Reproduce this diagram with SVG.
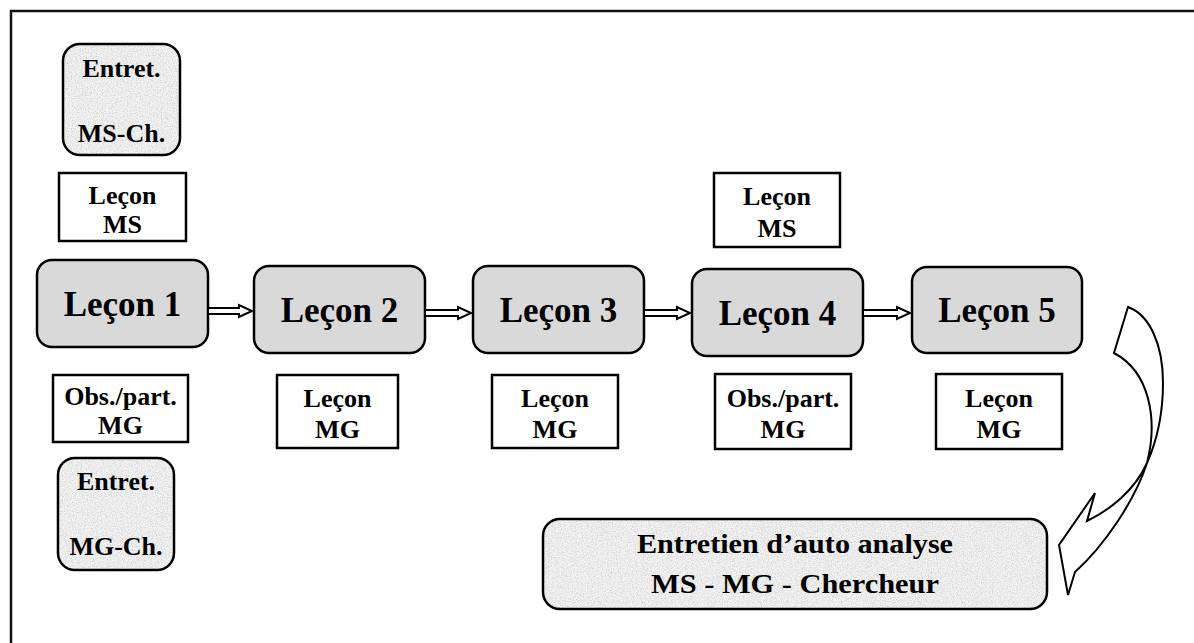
<svg xmlns="http://www.w3.org/2000/svg" width="1194" height="643" viewBox="0 0 1194 643">
<defs>
<style>
.lbl{font-family:"Liberation Serif","Times New Roman",serif;font-weight:bold;fill:#000;text-anchor:middle}
.big{font-size:35px}
.sm{font-size:26px}
.main{fill:#d9d9d9;stroke:#000;stroke-width:2.5}
.note{fill:#fff;stroke:#000;stroke-width:2.5}
.sbg{fill:#f3f3f3}
.grain{fill:#000;filter:url(#grain)}
.edge{fill:none;stroke:#000;stroke-width:2.5}
.arw{fill:#fff;stroke:#000;stroke-width:2;stroke-linejoin:miter}
</style>
<filter id="grain" x="0" y="0" width="1" height="1">
<feTurbulence type="fractalNoise" baseFrequency="0.8" numOctaves="3" seed="7"/>
<feColorMatrix type="matrix" values="0 0 0 0 0.55  0 0 0 0 0.55  0 0 0 0 0.55  1 1 1 0 -1.35"/>
<feComposite in2="SourceGraphic" operator="in"/>
</filter>
</defs>
<rect x="0" y="0" width="1194" height="643" fill="#fff"/>
<rect x="11" y="11" width="1200" height="650" fill="none" stroke="#111" stroke-width="2.5"/>

<g id="entret-ms-ch">
<rect class="sbg" x="63" y="44" width="117" height="111" rx="17"/>
<rect class="grain" x="63" y="44" width="117" height="111" rx="17"/>
<rect class="edge" x="63" y="44" width="117" height="111" rx="17"/>
<text class="lbl sm" x="121.5" y="77">Entret.</text>
<text class="lbl sm" x="121.5" y="142">MS-Ch.</text>
</g>

<g id="lecon-ms-1">
<rect class="note" x="59" y="173" width="127" height="68"/>
<text class="lbl sm" x="122.5" y="204">Leçon</text>
<text class="lbl sm" x="122.5" y="233">MS</text>
</g>

<g id="lecon1">
<rect class="main" x="37" y="260" width="171" height="87" rx="15"/>
<text class="lbl big" x="122.5" y="316">Leçon 1</text>
</g>

<g id="obs-mg-1">
<rect class="note" x="53" y="375" width="135" height="67"/>
<text class="lbl sm" x="120.5" y="405">Obs./part.</text>
<text class="lbl sm" x="120.5" y="434">MG</text>
</g>

<g id="entret-mg-ch">
<rect class="sbg" x="58" y="458" width="116" height="112" rx="17"/>
<rect class="grain" x="58" y="458" width="116" height="112" rx="17"/>
<rect class="edge" x="58" y="458" width="116" height="112" rx="17"/>
<text class="lbl sm" x="116" y="490">Entret.</text>
<text class="lbl sm" x="116" y="555">MG-Ch.</text>
</g>

<g id="lecon2">
<rect class="main" x="254" y="266" width="171" height="87" rx="15"/>
<text class="lbl big" x="339.5" y="322">Leçon 2</text>
</g>

<g id="lecon-mg-2">
<rect class="note" x="277" y="375" width="121" height="73"/>
<text class="lbl sm" x="337.5" y="407">Leçon</text>
<text class="lbl sm" x="337.5" y="438">MG</text>
</g>

<g id="lecon3">
<rect class="main" x="473" y="266" width="171" height="87" rx="15"/>
<text class="lbl big" x="558.5" y="322">Leçon 3</text>
</g>

<g id="lecon-mg-3">
<rect class="note" x="492" y="375" width="126" height="73"/>
<text class="lbl sm" x="555" y="407">Leçon</text>
<text class="lbl sm" x="555" y="438">MG</text>
</g>

<g id="lecon-ms-4">
<rect class="note" x="714" y="173" width="126" height="74"/>
<text class="lbl sm" x="777" y="205">Leçon</text>
<text class="lbl sm" x="777" y="237">MS</text>
</g>

<g id="lecon4">
<rect class="main" x="692" y="269" width="171" height="87" rx="15"/>
<text class="lbl big" x="777.5" y="325">Leçon 4</text>
</g>

<g id="obs-mg-4">
<rect class="note" x="715" y="374" width="136" height="75"/>
<text class="lbl sm" x="783" y="407">Obs./part.</text>
<text class="lbl sm" x="783" y="438">MG</text>
</g>

<g id="lecon5">
<rect class="main" x="912" y="267" width="170" height="86" rx="15"/>
<text class="lbl big" x="997" y="322">Leçon 5</text>
</g>

<g id="lecon-mg-5">
<rect class="note" x="936" y="374" width="126" height="75"/>
<text class="lbl sm" x="999" y="407">Leçon</text>
<text class="lbl sm" x="999" y="438">MG</text>
</g>

<g id="entretien-auto-analyse">
<rect class="sbg" x="543" y="519" width="504" height="90" rx="17"/>
<rect class="grain" x="543" y="519" width="504" height="90" rx="17"/>
<rect class="edge" x="543" y="519" width="504" height="90" rx="17"/>
<text class="lbl" font-size="28" x="795" y="553" textLength="316" lengthAdjust="spacingAndGlyphs">Entretien d’auto analyse</text>
<text class="lbl" font-size="28" x="795" y="593" textLength="288" lengthAdjust="spacingAndGlyphs">MS - MG - Chercheur</text>
</g>

<g id="connectors">
<polygon class="arw" points="208,308 239,308 239,305 252,311 239,317 239,314 208,314"/>
<polygon class="arw" points="425,310 458,310 458,307 471,313 458,319 458,316 425,316"/>
<polygon class="arw" points="644,310 677,310 677,307 690,313 677,319 677,316 644,316"/>
<polygon class="arw" points="863,310 897,310 897,307 910,313 897,319 897,316 863,316"/>
<path class="arw" stroke-width="2.5" d="M1128,307 C1150,315 1163,345 1163,383 C1163,420 1155,445 1147,463 C1135,490 1110,510 1087,521 L1095,493 L1059,545 L1068,595 L1075,572 C1105,545 1135,500 1147,463 C1158,420 1150,372 1114,353 Z"/>
</g>
</svg>
